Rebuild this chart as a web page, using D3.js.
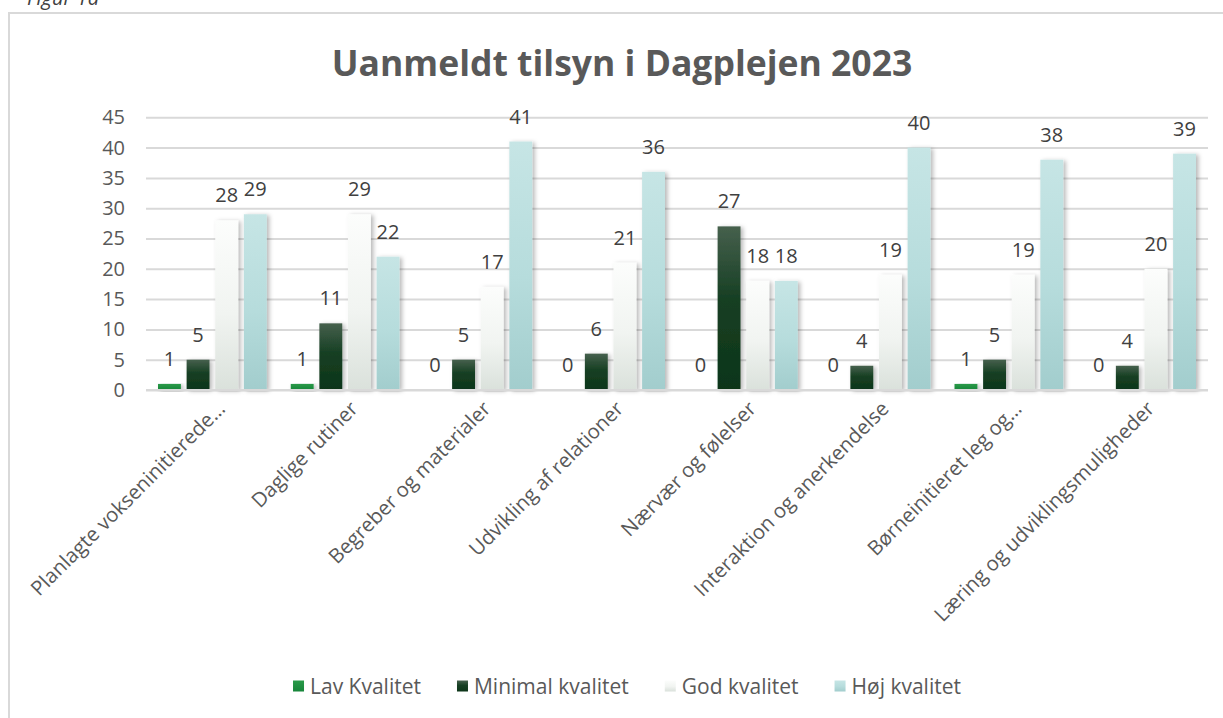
<!DOCTYPE html>
<html>
<head>
<meta charset="utf-8">
<script src="https://cdn.jsdelivr.net/npm/d3@7"></script>
<style>
  html, body { margin: 0; padding: 0; background: #ffffff; }
  svg { display: block; }
</style>
</head>
<body>
<script>
// ---- Data ----
const categories = [
  "Planlagte vokseninitierede…",
  "Daglige rutiner",
  "Begreber og materialer",
  "Udvikling af relationer",
  "Nærvær og følelser",
  "Interaktion og anerkendelse",
  "Børneinitieret leg og…",
  "Læring og udviklingsmuligheder"
];
const seriesNames = ["Lav Kvalitet", "Minimal kvalitet", "God kvalitet", "Høj kvalitet"];
const lavValues     = [1, 1, 0, 0, 0, 0, 1, 0];
const minimalValues = [5, 11, 5, 6, 27, 4, 5, 4];
const godValues     = [28, 29, 17, 21, 18, 19, 19, 20];
const hojValues     = [29, 22, 41, 36, 18, 40, 38, 39];
const yTicks = [0, 5, 10, 15, 20, 25, 30, 35, 40, 45];
const titleText = "Uanmeldt tilsyn i Dagplejen 2023";
const captionText = "Figur 1a";

const seriesValues = [lavValues, minimalValues, godValues, hojValues];

// ---- Layout ----
const W = 1223, H = 718;
const plot = { left: 146, right: 1208, top: 117.3, bottom: 390 };
const fontFam = "'Open Sans', 'DejaVu Sans', sans-serif";
const textCol = "#595959";

const svg = d3.select("body").append("svg").attr("width", W).attr("height", H);
const defs = svg.append("defs");

// gradients
const grads = [
  { id: "g0", stops: [["0%", "#2a9a49"], ["100%", "#17853a"]] },
  { id: "g1", stops: [["0%", "#46604d"], ["45%", "#163f23"], ["100%", "#0d3519"]] },
  { id: "g2", stops: [["0%", "#fcfdfc"], ["55%", "#f1f4f1"], ["100%", "#dae1db"]] },
  { id: "g3", stops: [["0%", "#c6e5e5"], ["55%", "#b6dcdc"], ["100%", "#a2cdcd"]] }
];
grads.forEach(g => {
  const lg = defs.append("linearGradient").attr("id", g.id)
    .attr("x1", 0).attr("y1", 0).attr("x2", 0).attr("y2", 1);
  g.stops.forEach(s => lg.append("stop").attr("offset", s[0]).attr("stop-color", s[1]));
});
const f = defs.append("filter").attr("id", "shadow")
  .attr("x", "-30%").attr("y", "-10%").attr("width", "170%").attr("height", "130%");
f.append("feDropShadow").attr("dx", 2.5).attr("dy", 1).attr("stdDeviation", 2)
  .attr("flood-color", "#000").attr("flood-opacity", 0.28);

// frame
svg.append("rect").attr("x", 9).attr("y", 13).attr("width", W + 20).attr("height", H + 20)
  .attr("fill", "#fff").attr("stroke", "#d9d9d9").attr("stroke-width", 2);

// caption (clipped at top, as in the source document)
svg.append("text").attr("x", 27).attr("y", 5)
  .attr("font-family", fontFam).attr("font-style", "italic").attr("font-size", 20)
  .attr("fill", "#404040").text(captionText);

// title
svg.append("text").attr("x", 622).attr("y", 76).attr("text-anchor", "middle")
  .attr("font-family", fontFam).attr("font-weight", "bold").attr("font-size", 35.5)
  .attr("fill", textCol).text(titleText);

// scales
const x0 = d3.scaleBand().domain(categories).range([plot.left, plot.right]).paddingInner(0).paddingOuter(0);
const x1 = d3.scaleBand().domain(seriesNames).range([12, x0.bandwidth() - 12]).paddingInner(0.2).paddingOuter(0);
const y = d3.scaleLinear().domain([0, 45]).range([plot.bottom, plot.top]);

// gridlines
const grid = svg.append("g").attr("transform", `translate(${plot.left},0)`)
  .call(d3.axisLeft(y).tickValues(yTicks).tickSize(-(plot.right - plot.left)).tickFormat(""));
grid.select(".domain").remove();
grid.selectAll(".tick line").attr("stroke", "#d9d9d9").attr("stroke-width", 2);

// y axis labels
const yAxis = svg.append("g").attr("transform", `translate(${plot.left},0)`)
  .call(d3.axisLeft(y).tickValues(yTicks).tickSize(0).tickPadding(21));
yAxis.select(".domain").remove();
yAxis.selectAll("text").attr("font-family", fontFam).attr("font-size", 20).attr("fill", textCol);

// bars
const groups = svg.append("g").selectAll("g").data(categories).join("g")
  .attr("transform", d => `translate(${x0(d)},0)`);

groups.each(function(cat, ci) {
  const g = d3.select(this);
  const rows = seriesNames.map((s, si) => ({ s, si, v: seriesValues[si][ci] }));
  g.selectAll("rect").data(rows).join("rect")
    .attr("x", d => x1(d.s))
    .attr("width", x1.bandwidth())
    .attr("y", d => y(d.v))
    .attr("height", d => y(0) - y(d.v))
    .attr("fill", d => `url(#g${d.si})`)
    .attr("filter", "url(#shadow)");
  g.selectAll("text").data(rows).join("text")
    .attr("x", d => x1(d.s) + x1.bandwidth() / 2)
    .attr("y", d => y(d.v) - 18)
    .attr("text-anchor", "middle")
    .attr("font-family", fontFam).attr("font-size", 20).attr("fill", "#404040")
    .text(d => d.v);
});

// baseline
svg.append("line").attr("x1", plot.left).attr("x2", plot.right)
  .attr("y1", y(0)).attr("y2", y(0)).attr("stroke", "#d9d9d9").attr("stroke-width", 2);

// x axis labels
const xAxis = svg.append("g").attr("transform", `translate(0,${plot.bottom})`)
  .call(d3.axisBottom(x0).tickSize(0));
xAxis.select(".domain").remove();
xAxis.selectAll(".tick text")
  .attr("font-family", fontFam).attr("font-size", 20.3).attr("fill", textCol)
  .attr("text-anchor", "end")
  .attr("x", 0).attr("y", 0).attr("dy", 0)
  .attr("transform", "translate(14,20) rotate(-45)");

// legend
const legend = svg.append("g");
const legendColors = ["url(#g0)", "url(#g1)", "url(#g2)", "url(#g3)"];
const sw = 11, gapText = 6, gapItem = 36;
let cx = 0;
seriesNames.forEach((s, i) => {
  const it = legend.append("g").attr("transform", `translate(${cx},0)`);
  it.append("rect").attr("x", 0).attr("y", -sw / 2).attr("width", sw).attr("height", sw)
    .attr("fill", legendColors[i]);
  const t = it.append("text").attr("x", sw + gapText).attr("y", 7.5)
    .attr("font-family", fontFam).attr("font-size", 21).attr("fill", textCol).text(s);
  const w = t.node().getComputedTextLength();
  cx += sw + gapText + w + gapItem;
});
const totalW = cx - gapItem;
legend.attr("transform", `translate(${627 - totalW / 2},686)`);
</script>
</body>
</html>
